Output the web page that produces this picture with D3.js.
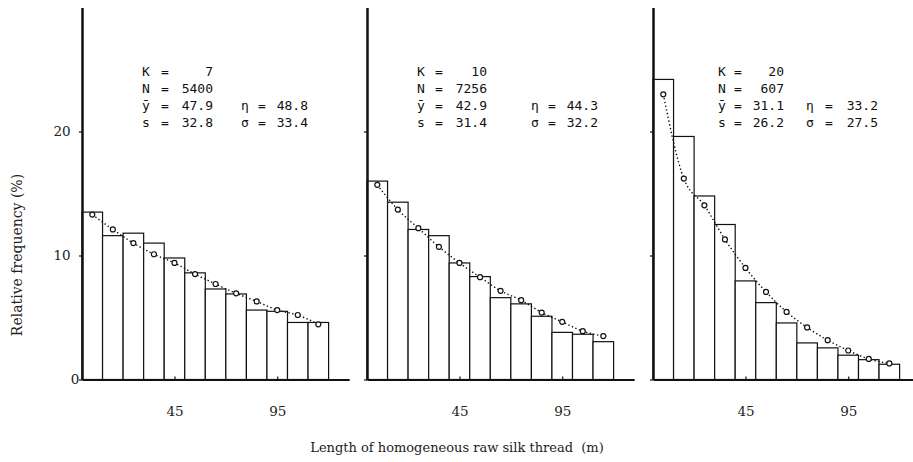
<!DOCTYPE html>
<html><head><meta charset="utf-8">
<script src="https://cdn.jsdelivr.net/npm/d3@7/dist/d3.min.js"></script>
<style>body{margin:0;background:#fff}</style>
</head><body>
<svg id="chart" width="913" height="462"></svg>
<script>
// ---- data ----
const binStarts = [0, 10, 20, 30, 40, 50, 60, 70, 80, 90, 100, 110];
const binWidth = 10;
const xTickValues = [45, 95];
const yTickValues = [0, 10, 20];

const bars1 = [13.5, 11.6, 11.8, 11.0, 9.8, 8.6, 7.3, 6.9, 5.6, 5.5, 4.6, 4.6];
const fit1  = [13.3, 12.1, 11.0, 10.1, 9.4, 8.5, 7.7, 6.95, 6.3, 5.6, 5.2, 4.45];
const bars2 = [16.0, 14.3, 12.1, 11.6, 9.4, 8.3, 6.6, 6.1, 5.1, 3.8, 3.65, 3.05];
const fit2  = [15.7, 13.7, 12.2, 10.7, 9.4, 8.25, 7.15, 6.4, 5.4, 4.65, 3.9, 3.5];
const bars3 = [24.2, 19.6, 14.8, 12.5, 7.95, 6.2, 4.56, 2.95, 2.55, 1.96, 1.6, 1.23];
const fit3  = [23.0, 16.2, 14.05, 11.3, 9.0, 7.06, 5.45, 4.2, 3.17, 2.34, 1.66, 1.3];

const statSymbols = ["K", "N", "ȳ", "s"];
const statRightSymbols = ["η", "σ"];
const stats1 = ["7", "5400", "47.9", "32.8"];
const statsRight1 = ["48.8", "33.4"];
const stats2 = ["10", "7256", "42.9", "31.4"];
const statsRight2 = ["44.3", "32.2"];
const stats3 = ["20", "607", "31.1", "26.2"];
const statsRight3 = ["33.2", "27.5"];

const yLabel = "Relative frequency (%)";
const xLabel = "Length of homogeneous raw silk thread  (m)";

// ---- layout ----
const svg = d3.select("#chart");
const baseY = 379.5, topY = 7.5;
const pxPer10 = 20.55;
const panels = [
  {ox: 82,  bars: bars1, fit: fit1, st: stats1, sr: statsRight1, t: {s:146, e:165, v:213, rs:245, re:262, rv:308}, labels: true},
  {ox: 367, bars: bars2, fit: fit2, st: stats2, sr: statsRight2, t: {s:421, e:439, v:487, rs:535, re:552, rv:598}, labels: false},
  {ox: 653, bars: bars3, fit: fit3, st: stats3, sr: statsRight3, t: {s:722, e:738, v:784, rs:810, re:829, rv:878}, labels: false}
];
const rowY = [76, 93, 110, 127];
const yLabelX = {0: 75, 10: 62, 20: 62};

const y = d3.scaleLinear().domain([0, 30]).range([baseY, topY]);

panels.forEach(p => {
  const x = d3.scaleLinear().domain([0, 130]).range([p.ox, p.ox + 13 * pxPer10]);
  const g = svg.append("g");

  // bars
  g.selectAll("rect.bar").data(p.bars).join("rect")
    .attr("class", "bar")
    .attr("x", (d, i) => x(binStarts[i]))
    .attr("width", (d, i) => x(binStarts[i] + binWidth) - x(binStarts[i]))
    .attr("y", d => y(d))
    .attr("height", d => y(0) - y(d))
    .attr("fill", "#fff").attr("stroke", "#111").attr("stroke-width", 1.2);

  // fitted dotted curve
  const pts = p.fit.map((d, i) => [x(binStarts[i] + binWidth / 2), y(d)]);
  g.append("path")
    .attr("d", d3.line().curve(d3.curveMonotoneX)(pts))
    .attr("fill", "none").attr("stroke", "#111").attr("stroke-width", 1.4)
    .attr("stroke-dasharray", "1.4 2.4");
  g.selectAll("circle").data(pts).join("circle")
    .attr("cx", d => d[0]).attr("cy", d => d[1]).attr("r", 2.5)
    .attr("fill", "#fff").attr("stroke", "#111").attr("stroke-width", 1.2);

  // x axis
  const xa = g.append("g").attr("transform", `translate(0,${baseY})`)
    .call(d3.axisBottom(x).tickValues(xTickValues).tickSizeInner(-3).tickSizeOuter(0).tickPadding(27));
  xa.select(".domain").attr("stroke", "#111").attr("stroke-width", 2);
  xa.selectAll(".tick line").attr("stroke", "#111").attr("stroke-width", 1.2);
  xa.selectAll(".tick text").attr("font-family", "DejaVu Serif").attr("font-size", 13.5).attr("fill", "#222");

  // y axis
  const ya = g.append("g").attr("transform", `translate(${p.ox},0)`)
    .call(d3.axisLeft(y).tickValues(yTickValues).tickSizeInner(3).tickSizeOuter(0)
      .tickFormat(p.labels ? d3.format("d") : () => ""));
  ya.select(".domain").attr("stroke", "#111").attr("stroke-width", 2.5);
  ya.selectAll(".tick line").attr("stroke", "#111").attr("stroke-width", 1.2);
  ya.selectAll(".tick text").attr("font-family", "DejaVu Serif").attr("font-size", 13.5)
    .attr("fill", "#222").attr("text-anchor", "middle").attr("x", d => yLabelX[d] - p.ox);

  // stats
  const tg = g.append("g").attr("font-family", "DejaVu Sans Mono").attr("font-size", 13).attr("fill", "#111");
  statSymbols.forEach((s, i) => {
    tg.append("text").attr("x", p.t.s).attr("y", rowY[i]).attr("text-anchor", "middle").text(s);
    tg.append("text").attr("x", p.t.e).attr("y", rowY[i]).attr("text-anchor", "middle").text("=");
    tg.append("text").attr("x", p.t.v).attr("y", rowY[i]).attr("text-anchor", "end").text(p.st[i]);
  });
  statRightSymbols.forEach((s, i) => {
    tg.append("text").attr("x", p.t.rs).attr("y", rowY[i + 2]).attr("text-anchor", "middle").text(s);
    tg.append("text").attr("x", p.t.re).attr("y", rowY[i + 2]).attr("text-anchor", "middle").text("=");
    tg.append("text").attr("x", p.t.rv).attr("y", rowY[i + 2]).attr("text-anchor", "end").text(p.sr[i]);
  });
});

// axis titles
svg.append("text").attr("transform", "translate(22,255) rotate(-90)")
  .attr("text-anchor", "middle").attr("font-family", "DejaVu Serif").attr("font-size", 14)
  .attr("fill", "#222").text(yLabel);
svg.append("text").attr("x", 457).attr("y", 452).attr("text-anchor", "middle")
  .attr("font-family", "DejaVu Serif").attr("font-size", 13)
  .attr("fill", "#222").style("white-space", "pre").text(xLabel);
</script>
</body></html>
